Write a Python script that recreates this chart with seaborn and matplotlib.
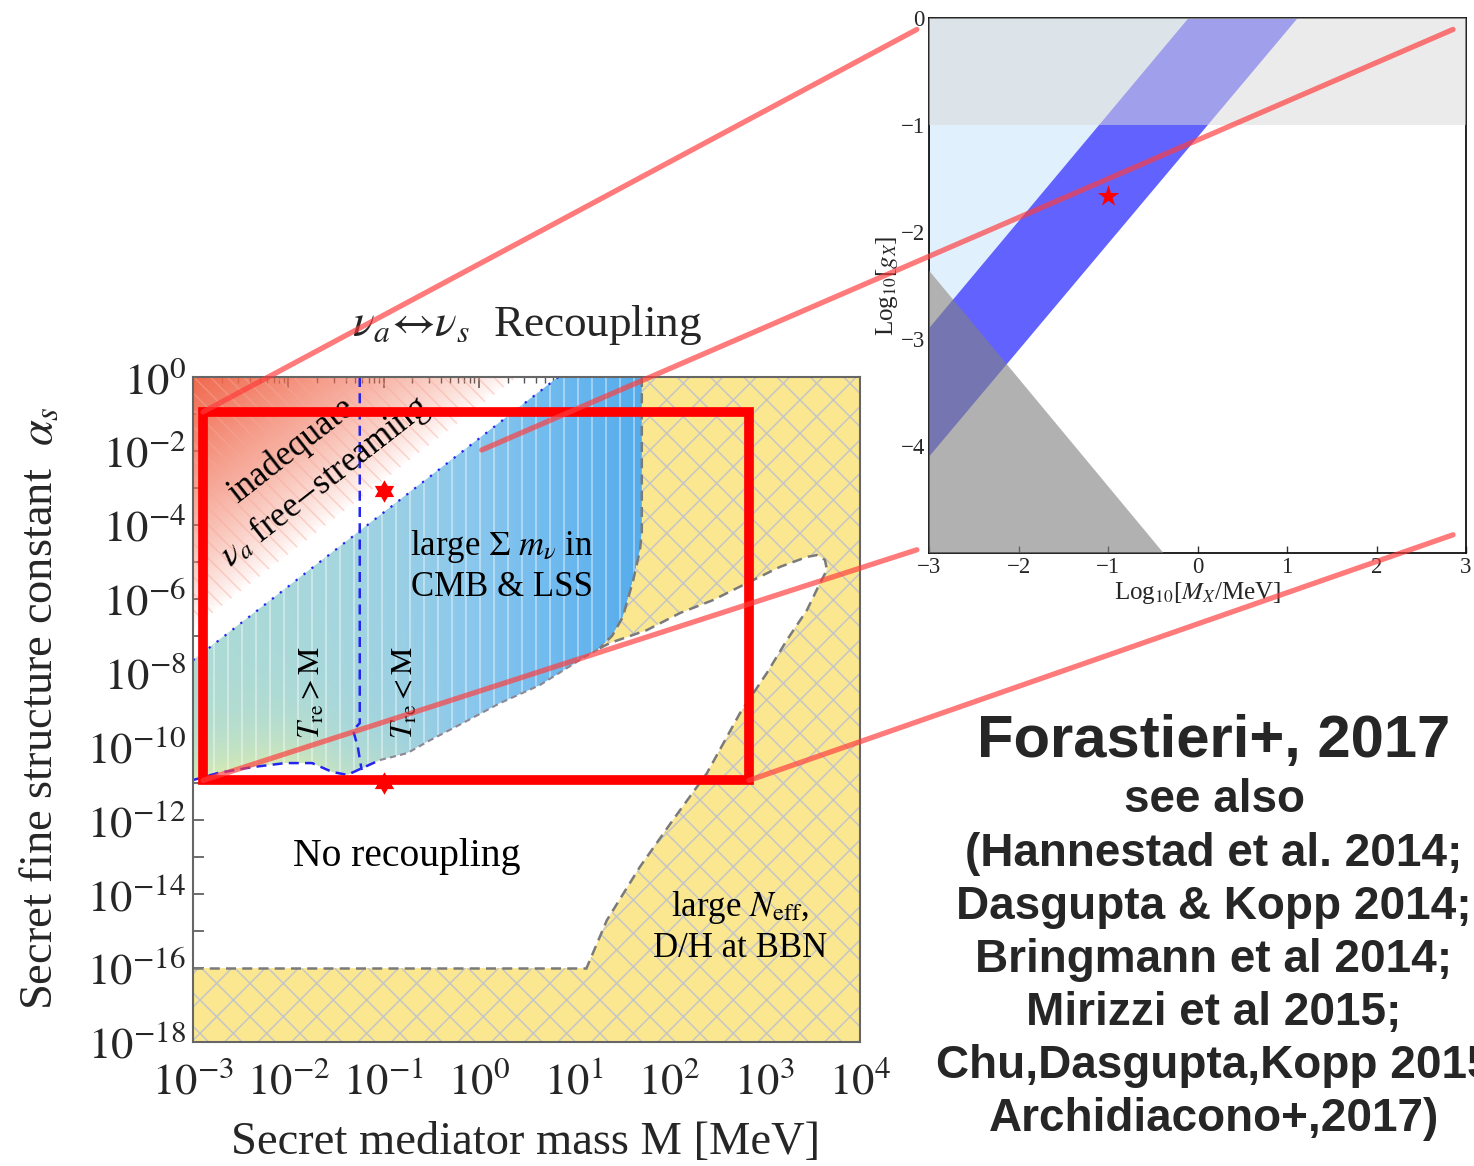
import numpy as np
import matplotlib
matplotlib.use("Agg")
import matplotlib.pyplot as plt
import matplotlib.ticker as mticker
from matplotlib.patches import Polygon, Rectangle, ConnectionPatch
from matplotlib.path import Path
import seaborn as sns

# ---------------- main panel: log10(M / MeV) vs log10(alpha_s) ----------------
axis_logM = [-3.0, 4.0]
axis_logA = [-18.0, 0.0]

# edge of the "inadequate free-streaming" region
fs_edge_logM = [-3.0, 0.40]
fs_edge_logA = [-6.80, 0.00]

# upper edge of the large sum(m_nu) region
mnu_top_logM = [-3.0, 0.835]
mnu_top_logA = [-7.67, 0.0]

# high-mass edge of the large sum(m_nu) region
mnu_right_logM = [1.71, 1.71, 1.69, 1.62, 1.51, 1.40, 1.27]
mnu_right_logA = [0.0, -4.20, -4.70, -5.50, -6.50, -7.00, -7.34]

# recoupling threshold (lower edge of the sum(m_nu) region)
recoup_logM = [-3.0, -2.74, -2.38, -2.03, -1.75, -1.54, -1.38, -1.22, -1.04,
               -0.75, -0.51, -0.17, 0.22, 0.64, 1.06, 1.27]
recoup_logA = [-10.91, -10.72, -10.56, -10.45, -10.45, -10.69, -10.77, -10.58, -10.37,
               -10.18, -9.83, -9.37, -8.83, -8.34, -7.66, -7.34]

# T_re = M separation
tre_logM = [-1.25, -1.25, -1.32, -1.27, -1.23]
tre_logA = [0.0, -9.37, -9.56, -10.02, -10.64]

# allowed wedge inside the N_eff / BBN exclusion
wedge_logM = [1.27, 1.376, 1.764, 2.11, 2.456, 2.813, 3.16, 3.443, 3.548, 3.632, 3.653,
              3.58, 3.443, 3.233, 3.023, 2.74, 2.394, 2.037, 1.69, 1.344, 1.13]
wedge_logA = [-7.34, -7.20, -6.85, -6.39, -6.04, -5.58, -5.14, -4.87, -4.82, -4.95, -5.22,
              -5.58, -6.31, -7.12, -8.01, -9.10, -10.72, -11.99, -13.26, -14.70, -16.0]
bbn_floor_logA = -16.0

# benchmark points
bench_M = [0.1, 0.1]
bench_logA = [-3.09, -11.0]

# highlighted window
zoom_box_logM = [-2.895, 2.834]
zoom_box_logA = [-10.92, -0.947]

# ---------------- inset: log10(M_X / MeV) vs log10(g_X) ----------------
inset_logM = [-3.0, 3.0]
inset_logg = [-5.0, 0.0]
band_logM = [-3.0, -0.10, 1.12, -3.0]
band_logg = [-2.90, 0.0, 0.0, -4.10]
strong_logg = -1.0
tri_logM = [-3.0, -0.38, -3.0]
tri_logg = [-2.36, -5.0, -5.0]
inset_star_logM = [-1.0]
inset_star_logg = [-1.66]

# connector lines between the window and the inset
conn_main_logM = [-2.895, 0.03, -2.895, 2.834]
conn_main_logA = [-0.947, -1.976, -10.92, -10.92]
conn_inset_logM = [-3.136, 2.855, -3.136, 2.855]
conn_inset_logg = [-0.107, -0.107, -4.97, -4.83]

refs = ["(Hannestad et al. 2014;", "Dasgupta & Kopp 2014;", "Bringmann et al 2014;",
        "Mirizzi et al 2015;", "Chu,Dasgupta,Kopp 2015", "Archidiacono+,2017)"]

# ---------------------------------------------------------------------------
sns.set_theme(style="ticks")
plt.rcParams.update({
    "font.family": ["Liberation Serif", "DejaVu Serif"],
    "mathtext.fontset": "stix",
    "xtick.direction": "in",
    "ytick.direction": "in",
    "hatch.linewidth": 1.1,
    "axes.linewidth": 1.4,
})

W, H = 1474, 1166
fig = plt.figure(figsize=(W / 100, H / 100), dpi=100)
ax = fig.add_axes([193 / W, 1 - 1042 / H, 667 / W, 665 / H])
ax.set_xscale("log")
ax.set_yscale("log")
ax.set_xlim(10.0 ** axis_logM[0], 10.0 ** axis_logM[1])
ax.set_ylim(10.0 ** axis_logA[0], 10.0 ** axis_logA[1])


def pts(lm, la):
    return np.column_stack([10.0 ** np.asarray(lm, float), 10.0 ** np.asarray(la, float)])


# evaluation grid in log space for the colour gradients
lx = np.linspace(axis_logM[0], axis_logM[1], 421)
ly = np.linspace(axis_logA[0], axis_logA[1], 541)
GX, GY = np.meshgrid(0.5 * (lx[1:] + lx[:-1]), 0.5 * (ly[1:] + ly[:-1]))

# --- inadequate free-streaming: red fading towards its edge
fs_poly = Polygon(pts([-3.0, fs_edge_logM[1], fs_edge_logM[0]], [0.0, fs_edge_logA[1], fs_edge_logA[0]]),
                  closed=True, transform=ax.transData)
slope = (fs_edge_logA[1] - fs_edge_logA[0]) / (fs_edge_logM[1] - fs_edge_logM[0])
dist = GY - (fs_edge_logA[0] + slope * (GX - fs_edge_logM[0]))
dmax = axis_logA[1] - fs_edge_logA[0]
red = np.zeros(GX.shape + (4,))
red[..., 0], red[..., 1], red[..., 2] = 0.94, 0.41, 0.30
red[..., 3] = np.clip(dist / dmax, 0, 1) ** 0.8
m = ax.pcolormesh(10.0 ** lx, 10.0 ** ly, red, shading="flat", antialiased=False, zorder=1)
m.set_clip_path(fs_poly)
ax.add_patch(Polygon(pts([-3.0, fs_edge_logM[1], fs_edge_logM[0]], [0.0, fs_edge_logA[1], fs_edge_logA[0]]),
                     closed=True, facecolor="none", edgecolor=(0.97, 0.66, 0.6, 0.45),
                     linewidth=0, hatch="\\\\", zorder=2))

# --- large sum(m_nu): teal-to-blue gradient
blue_lm = mnu_top_logM + mnu_right_logM + recoup_logM[::-1]
blue_la = mnu_top_logA + mnu_right_logA + recoup_logA[::-1]
blue_poly = Polygon(pts(blue_lm, blue_la), closed=True, transform=ax.transData)
stop_x = [-3.0, -1.5, 0.0, 1.0, 1.8]
stop_c = np.array([(172, 218, 212), (165, 214, 222), (136, 198, 237), (104, 182, 238), (82, 170, 234)]) / 255
blue = np.ones(GX.shape + (4,))
for k in range(3):
    blue[..., k] = np.interp(GX, stop_x, stop_c[:, k])
low = np.interp(GX, recoup_logM, recoup_logA)
tint = np.exp(-np.clip(GY - low, 0, None) / 1.0) * np.clip((-0.3 - GX) / 1.8, 0, 1) * 0.75
tint_c = np.array([226, 238, 168]) / 255
for k in range(3):
    blue[..., k] = blue[..., k] * (1 - tint) + tint_c[k] * tint
m = ax.pcolormesh(10.0 ** lx, 10.0 ** ly, blue, shading="flat", antialiased=False, zorder=1)
m.set_clip_path(blue_poly)
stripe_x = 10.0 ** np.arange(-2.93, 1.75, 0.147)
vl = ax.vlines(stripe_x, 10.0 ** axis_logA[0], 10.0 ** axis_logA[1], colors="white",
               alpha=0.5, linewidth=1.1, zorder=2)
vl.set_clip_path(blue_poly)

# --- large N_eff / BBN exclusion (hatched yellow)
yel_lm = [axis_logM[0], axis_logM[1], axis_logM[1]] + mnu_right_logM + wedge_logM[1:] + [axis_logM[0]]
yel_la = [axis_logA[0], axis_logA[0], axis_logA[1]] + mnu_right_logA + wedge_logA[1:] + [bbn_floor_logA]
ax.add_patch(Polygon(pts(yel_lm, yel_la), closed=True, facecolor="#fae790",
                     edgecolor="#c6c6c6", linewidth=0, hatch="x", zorder=1))


# --- boundaries
def boundary(lm, la, **kw):
    sns.lineplot(x=10.0 ** np.asarray(lm, float), y=10.0 ** np.asarray(la, float), ax=ax,
                 sort=False, estimator=None, **kw)


gray_kw = dict(color="#7a7a7a", linewidth=1.8, linestyle=(0, (4, 2.5)), zorder=4)
boundary(wedge_logM, wedge_logA, **gray_kw)
boundary([axis_logM[0], wedge_logM[-1]], [bbn_floor_logA, bbn_floor_logA], **gray_kw)
boundary(mnu_right_logM, mnu_right_logA, **gray_kw)
boundary(recoup_logM[8:], recoup_logA[8:], color="#8e8794", linewidth=1.5,
         linestyle=(0, (3, 2)), zorder=4)
boundary(recoup_logM[:9], recoup_logA[:9], color="#2424f0", linewidth=1.8,
         linestyle=(0, (4, 2.5)), zorder=4)
boundary(tre_logM, tre_logA, color="#2424f0", linewidth=1.8, linestyle=(0, (4, 2.5)), zorder=4)
boundary(mnu_top_logM, mnu_top_logA, color="#2424f0", linewidth=1.6,
         linestyle=(0, (1, 3.5)), zorder=4)

# --- benchmark points (six-pointed stars)
ang = np.pi / 2 + np.arange(13) * np.pi / 6
rad = np.where(np.arange(13) % 2 == 0, 1.0, 1 / np.sqrt(3))
hexagram = Path(np.column_stack([rad * np.cos(ang), rad * np.sin(ang)]), closed=True)
sns.scatterplot(x=bench_M, y=10.0 ** np.asarray(bench_logA), marker=hexagram, s=260,
                color="red", linewidth=0, ax=ax, zorder=6)

# --- highlighted window
ax.add_patch(Rectangle((10.0 ** zoom_box_logM[0], 10.0 ** zoom_box_logA[0]),
                       10.0 ** zoom_box_logM[1] - 10.0 ** zoom_box_logM[0],
                       10.0 ** zoom_box_logA[1] - 10.0 ** zoom_box_logA[0],
                       fill=False, edgecolor="red", linewidth=7, joinstyle="miter", zorder=7))

# --- region labels
def lab(lm, la, s, **kw):
    ax.text(10.0 ** lm, 10.0 ** la, s, ha="center", va="center", rotation_mode="anchor",
            color="black", zorder=5, **kw)


lab(-1.97, -1.98, "inadequate", fontsize=25, rotation=38)
lab(-1.615, -2.84, r"$\nu_a$ free$-$streaming", fontsize=25, rotation=38)
lab(0.242, -4.575, r"large $\Sigma\ m_\nu$ in", fontsize=25)
lab(0.242, -5.71, "CMB & LSS", fontsize=25)
lab(-1.751, -8.55, r"$T_{\rm re} > {\rm M}$", fontsize=22, rotation=90)
lab(-0.775, -8.55, r"$T_{\rm re} < {\rm M}$", fontsize=22, rotation=90)
lab(-0.754, -12.99, "No recoupling", fontsize=28.5)
lab(2.74, -14.35, r"large $N_{\rm eff}$,", fontsize=25)
lab(2.74, -15.46, "D/H at BBN", fontsize=25)

# --- axes styling
ax.xaxis.set_major_locator(mticker.LogLocator(base=10, numticks=20))
ax.xaxis.set_minor_locator(mticker.LogLocator(base=10, subs=np.arange(2, 10), numticks=20))
ax.xaxis.set_minor_formatter(mticker.NullFormatter())
ax.xaxis.set_major_formatter(mticker.FuncFormatter(lambda v, p: r"$10^{%d}$" % round(np.log10(v))))
ax.yaxis.set_major_locator(mticker.FixedLocator(10.0 ** np.arange(axis_logA[0], axis_logA[1] + 1)))
ax.yaxis.set_minor_locator(mticker.NullLocator())


def yfmt(v, p):
    e = int(round(np.log10(v)))
    return r"$10^{%d}$" % e if e % 2 == 0 else ""


ax.yaxis.set_major_formatter(mticker.FuncFormatter(yfmt))
ax.tick_params(which="both", direction="in", top=True, right=True, color="#555555")
ax.tick_params(which="major", length=8, width=1.2, labelsize=32)
ax.tick_params(axis="x", which="major", pad=14)
ax.tick_params(axis="y", which="major", pad=5)
ax.tick_params(which="minor", length=4, width=1.0)
for sp in ax.spines.values():
    sp.set_color("#666666")
    sp.set_linewidth(1.5)
    sp.set_zorder(8)

fig.text(527 / W, 1 - 325 / H, r"$\nu_a\!\leftrightarrow\!\nu_s$  Recoupling",
         ha="center", va="center", fontsize=32.5)
fig.text(526 / W, 1 - 1143 / H, "Secret mediator mass M [MeV]", ha="center", va="center", fontsize=33.5)
fig.text(40 / W, 1 - 708 / H, r"Secret fine structure constant  $\alpha_s$", ha="center",
         va="center", rotation=90, fontsize=33.5)

# ---------------- inset ----------------
axi = fig.add_axes([929 / W, 1 - 553 / H, 537 / W, 535 / H])
axi.set_xlim(*inset_logM)
axi.set_ylim(*inset_logg)

# light-blue wedge bounded by the band's upper edge and the grey triangle
bx0, by0, bx1, by1 = band_logM[0], band_logg[0], band_logM[1], band_logg[1]
tx0, ty0, tx1, ty1 = tri_logM[0], tri_logg[0], tri_logM[1], tri_logg[1]
sb = (by1 - by0) / (bx1 - bx0)
st = (ty1 - ty0) / (tx1 - tx0)
xi = (ty0 - by0 + sb * bx0 - st * tx0) / (sb - st)
yi = by0 + sb * (xi - bx0)
axi.add_patch(Polygon([(inset_logM[0], 0.0), (bx1, by1), (xi, yi), (tx0, ty0)],
                      closed=True, facecolor="#e0f0fd", edgecolor="none", zorder=1))
axi.add_patch(Polygon(np.column_stack([band_logM, band_logg]), closed=True,
                      facecolor="#6262ff", edgecolor="none", zorder=2))
axi.fill_between(inset_logM, strong_logg, inset_logg[1], color="#d9d9d9", alpha=0.52,
                 linewidth=0, zorder=3)
axi.add_patch(Polygon(np.column_stack([tri_logM, tri_logg]), closed=True,
                      facecolor="#828282", alpha=0.62, edgecolor="none", zorder=3))
sns.scatterplot(x=inset_star_logM, y=inset_star_logg, marker="*", s=260, color="red",
                linewidth=0, ax=axi, zorder=5)
axi.set_xticks(np.arange(-3, 4))
axi.set_yticks(np.arange(-4, 1))
axi.tick_params(direction="in", length=5, width=1.0, labelsize=16.5, color="#333333", pad=3)
axi.set_xlabel(r"Log$_{10}$[$M_X$/MeV]", fontsize=18, labelpad=1)
axi.set_ylabel(r"Log$_{10}$[$g_X$]", fontsize=18, labelpad=0)
for sp in axi.spines.values():
    sp.set_color("#111111")
    sp.set_linewidth(1.3)

# ---------------- connectors ----------------
for a_m, a_a, b_m, b_g in zip(conn_main_logM, conn_main_logA, conn_inset_logM, conn_inset_logg):
    con = ConnectionPatch(xyA=(10.0 ** a_m, 10.0 ** a_a), coordsA=ax.transData,
                          xyB=(b_m, b_g), coordsB=axi.transData,
                          color="#ff3c3c", alpha=0.68, linewidth=3.8, zorder=10)
    fig.add_artist(con)

# ---------------- references ----------------
sans = ["Liberation Sans", "DejaVu Sans"]
fig.text(1214 / W, 1 - 757 / H, "Forastieri+, 2017", ha="center", va="baseline",
         fontsize=43, fontweight="bold", family=sans)
fig.text(1214 / W, 1 - 812 / H, "see also", ha="center", va="baseline",
         fontsize=33, fontweight="bold", family=sans)
for i, r in enumerate(refs):
    fig.text(1214 / W, 1 - (866 + 53 * i) / H, r, ha="center", va="baseline",
             fontsize=33, fontweight="bold", family=sans)

fig.savefig("out.png", dpi=100)
